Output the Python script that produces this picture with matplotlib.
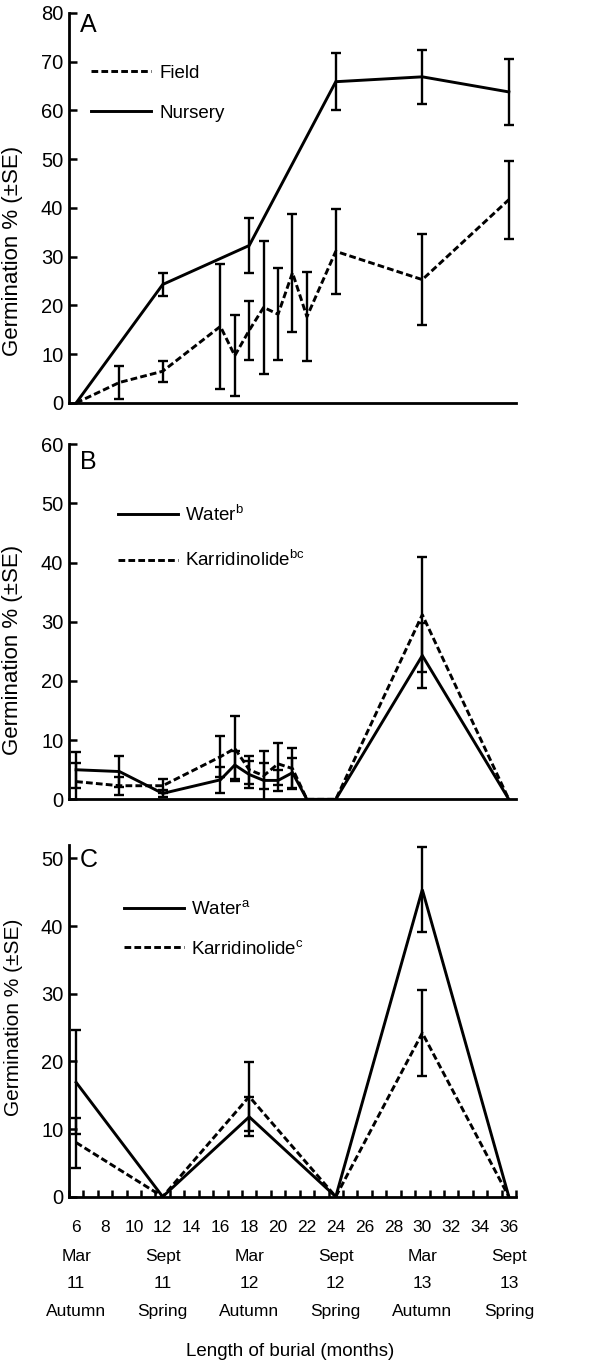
import matplotlib
matplotlib.use("Agg")
import matplotlib.pyplot as plt
from matplotlib.ticker import MultipleLocator

plt.rcParams['font.family'] = ['Liberation Sans', 'DejaVu Sans']
plt.rcParams['mathtext.default'] = 'regular'

# ---- data ----
# panel A: field vs nursery
months_field = [6, 9, 12, 16, 17, 18, 19, 20, 21, 22, 24, 30, 36]
field_mean = [0, 4.2, 6.5, 15.7, 9.7, 14.9, 19.6, 18.2, 26.7, 17.7, 31.1, 25.3, 41.7]
field_se = [0, 3.3, 2.2, 12.8, 8.3, 6.0, 13.7, 9.4, 12.1, 9.1, 8.7, 9.4, 8.0]

months_nursery = [6, 12, 18, 24, 30, 36]
nursery_mean = [0, 24.3, 32.3, 65.9, 66.9, 63.8]
nursery_se = [0, 2.4, 5.7, 5.8, 5.6, 6.8]

# panel B
months_b = [6, 9, 12, 16, 17, 18, 19, 20, 21, 22, 24, 30, 36]
water_b = [5.0, 4.7, 1.0, 3.3, 5.8, 4.2, 3.2, 3.2, 4.5, 0, 0, 24.3, 0]
water_b_se = [3.0, 2.6, 0.6, 2.2, 2.4, 2.3, 5.0, 1.8, 2.5, 0, 0, 5.5, 0]
karr_b = [3.0, 2.3, 2.3, 7.2, 8.6, 5.0, 4.0, 6.0, 5.2, 0, 0, 31.2, 0]
karr_b_se = [3.1, 1.5, 1.2, 3.5, 5.5, 2.4, 2.2, 3.6, 3.5, 0, 0, 9.7, 0]

# panel C
months_c = [6, 12, 18, 24, 30, 36]
water_c = [16.9, 0, 11.8, 0, 45.4, 0]
water_c_se = [7.7, 0, 2.9, 0, 6.3, 0]
karr_c = [8.0, 0, 14.8, 0, 24.2, 0]
karr_c_se = [3.7, 0, 5.1, 0, 6.4, 0]

# x axis annotation rows
label_months = [6, 12, 18, 24, 30, 36]
month_names = ['Mar', 'Sept', 'Mar', 'Sept', 'Mar', 'Sept']
year_names = ['11', '11', '12', '12', '13', '13']
season_names = ['Autumn', 'Spring', 'Autumn', 'Spring', 'Autumn', 'Spring']

LW = 2.1
DASH = (2.3, 1.1)


def draw_series(ax, x, y, se, dashed):
    ls = (0, DASH) if dashed else '-'
    line, = ax.plot(x, y, color='black', lw=LW, linestyle=ls, solid_joinstyle='miter')
    # error bars only where there is a SE
    xe = [a for a, s in zip(x, se) if s > 0]
    ye = [b for b, s in zip(y, se) if s > 0]
    ee = [s for s in se if s > 0]
    ax.errorbar(xe, ye, yerr=ee, fmt='none', ecolor='black', elinewidth=1.7,
                capsize=3.8, capthick=1.7)
    return line


def style_axes(ax, ymax, ystep):
    ax.set_xlim(5.5, 36.5)
    ax.set_ylim(0, ymax)
    ax.yaxis.set_major_locator(MultipleLocator(ystep))
    for s in ['top', 'right']:
        ax.spines[s].set_visible(False)
    for s in ['left', 'bottom']:
        ax.spines[s].set_linewidth(2.0)
    ax.tick_params(axis='y', direction='in', length=6, width=1.8, labelsize=14.5, pad=4)
    ax.tick_params(axis='x', which='both', bottom=False, labelbottom=False)


fig = plt.figure(figsize=(6.1, 13.65), dpi=100)

# ---- A ----
axA = fig.add_axes([0.113, 0.7048, 0.733, 0.2857])
lf = draw_series(axA, months_field, field_mean, field_se, True)
ln = draw_series(axA, months_nursery, nursery_mean, nursery_se, False)
style_axes(axA, 80, 10)
axA.set_ylabel('Germination % (\u00b1SE)', fontsize=16)
axA.yaxis.set_label_coords(-0.103, 0.39)
axA.text(0.025, 1.0, 'A', transform=axA.transAxes, fontsize=18, va='top', ha='left')
axA.legend([lf, ln], ['Field', 'Nursery'], loc='upper left', bbox_to_anchor=(0.05, 0.867),
           frameon=False, fontsize=13.5, handlelength=3.2, handletextpad=0.45,
           labelspacing=1.2, borderpad=0, borderaxespad=0)

# ---- B ----
axB = fig.add_axes([0.113, 0.4144, 0.733, 0.2601])
lw_b = draw_series(axB, months_b, water_b, water_b_se, False)
lk_b = draw_series(axB, months_b, karr_b, karr_b_se, True)
style_axes(axB, 60, 10)
axB.set_ylabel('Germination % (\u00b1SE)', fontsize=16)
axB.yaxis.set_label_coords(-0.103, 0.42)
axB.text(0.025, 0.985, 'B', transform=axB.transAxes, fontsize=18, va='top', ha='left')
axB.legend([lw_b, lk_b], ['Water$^{b}$', 'Karridinolide$^{bc}$'], loc='upper left',
           bbox_to_anchor=(0.11, 0.83), frameon=False, fontsize=13.5, handlelength=3.2,
           handletextpad=0.35, labelspacing=1.35, borderpad=0, borderaxespad=0)

# ---- C ----
axC = fig.add_axes([0.113, 0.1233, 0.733, 0.2577])
lw_c = draw_series(axC, months_c, water_c, water_c_se, False)
lk_c = draw_series(axC, months_c, karr_c, karr_c_se, True)
style_axes(axC, 52, 10)
axC.set_ylabel('Germination % (\u00b1SE)', fontsize=15)
axC.yaxis.set_label_coords(-0.103, 0.51)
axC.text(0.025, 0.99, 'C', transform=axC.transAxes, fontsize=18, va='top', ha='left')
axC.legend([lw_c, lk_c], ['Water$^{a}$', 'Karridinolide$^{c}$'], loc='upper left',
           bbox_to_anchor=(0.123, 0.843), frameon=False, fontsize=13.5, handlelength=3.2,
           handletextpad=0.4, labelspacing=1.15, borderpad=0, borderaxespad=0)

# x axis of C: month numbers every 2, small inward ticks between months
axC.xaxis.set_major_locator(MultipleLocator(2))
axC.xaxis.set_minor_locator(MultipleLocator(1, offset=0.5))
axC.tick_params(axis='x', which='major', bottom=True, labelbottom=True, length=0,
                labelsize=12.5, pad=17)
axC.tick_params(axis='x', which='minor', bottom=True, direction='in', length=5, width=1.8)

xt = axC.get_xaxis_transform()
for m, a, b, c in zip(label_months, month_names, year_names, season_names):
    axC.text(m, -0.171, a, transform=xt, ha='center', va='center', fontsize=12.5)
    axC.text(m, -0.248, b, transform=xt, ha='center', va='center', fontsize=12.5)
    axC.text(m, -0.326, c, transform=xt, ha='center', va='center', fontsize=12.5)

fig.text(290 / 610, 1 - 1352 / 1365, 'Length of burial (months)', ha='center', va='center',
         fontsize=13.5)

fig.savefig('out.png', dpi=100)
